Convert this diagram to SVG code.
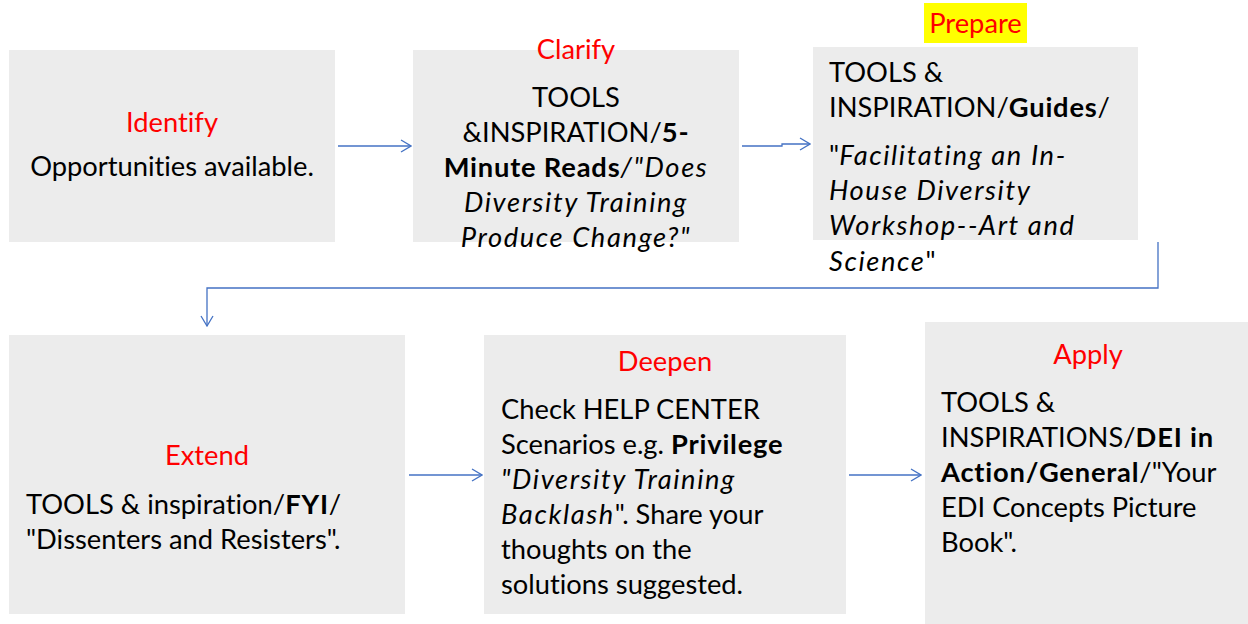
<svg xmlns="http://www.w3.org/2000/svg" width="1248" height="624" viewBox="0 0 1248 624">
<defs>
<style>
.box{fill:#ececec}
text{font-family:Lato,"Open Sans","Liberation Sans",sans-serif;font-size:27.3px;fill:#000;font-variant-ligatures:none}
.h{fill:#ff0000}
.c{text-anchor:middle}
.b{font-weight:bold;letter-spacing:0.8px}
.i{font-style:italic;letter-spacing:1.6px}
.ln{fill:none;stroke:#4472c4;stroke-width:1.3}
</style>
<marker id="ah" viewBox="0 0 12 14" refX="11" refY="7" markerWidth="12" markerHeight="14" markerUnits="userSpaceOnUse" orient="auto">
<path d="M1,1 L11,7 L1,13" fill="none" stroke="#4472c4" stroke-width="1.3"/>
</marker>
</defs>
<rect width="1248" height="624" fill="#fff"/>
<g id="connectors">
<path class="ln" d="M338,146 H411" marker-end="url(#ah)"/>
<path class="ln" d="M742,146 H782 V144 H810" marker-end="url(#ah)"/>
<path class="ln" d="M1158,242 V288 H207 V326" marker-end="url(#ah)"/>
<path class="ln" d="M409,475 H482" marker-end="url(#ah)"/>
<path class="ln" d="M849,475 H921" marker-end="url(#ah)"/>
</g>
<g id="identify">
<rect class="box" x="9" y="50" width="326" height="192"/>
<text class="h c" x="172" y="132">Identify</text>
<text class="c" x="172" y="176">Opportunities available.</text>
</g>
<g id="clarify">
<rect class="box" x="413" y="50" width="326" height="192"/>
<text class="h c" x="576" y="59">Clarify</text>
<text class="c" x="576" y="107">TOOLS</text>
<text class="c" x="576" y="142">&amp;INSPIRATION/<tspan class="b">5-</tspan></text>
<text class="c" x="576" y="177"><tspan class="b">Minute Reads</tspan><tspan class="i">/"Does</tspan></text>
<text class="c i" x="576" y="212">Diversity Training</text>
<text class="c i" x="576" y="247">Produce Change?"</text>
</g>
<g id="prepare">
<rect class="box" x="813" y="47" width="325" height="193"/>
<rect x="924" y="3" width="103" height="40" fill="#ffff00"/>
<text class="h c" x="975.5" y="33">Prepare</text>
<text x="829" y="82">TOOLS &amp;</text>
<text x="829" y="117">INSPIRATION/<tspan class="b">Guides</tspan>/</text>
<text x="829" y="165">"<tspan class="i">Facilitating an In-</tspan></text>
<text class="i" x="829" y="200">House Diversity</text>
<text class="i" x="829" y="235">Workshop--Art and</text>
<text x="829" y="271"><tspan class="i">Science</tspan>"</text>
</g>
<g id="extend">
<rect class="box" x="9" y="335" width="396" height="279"/>
<text class="h c" x="207" y="465">Extend</text>
<text x="26" y="514">TOOLS &amp; inspiration/<tspan class="b">FYI</tspan>/</text>
<text x="26" y="549">"Dissenters and Resisters".</text>
</g>
<g id="deepen">
<rect class="box" x="484" y="335" width="362" height="279"/>
<text class="h c" x="665" y="371">Deepen</text>
<text x="501" y="419">Check HELP CENTER</text>
<text x="501" y="454">Scenarios e.g. <tspan class="b">Privilege</tspan></text>
<text class="i" x="501" y="489">"Diversity Training</text>
<text x="501" y="524"><tspan class="i">Backlash</tspan>". Share your</text>
<text x="501" y="559">thoughts on the</text>
<text x="501" y="594">solutions suggested.</text>
</g>
<g id="apply">
<rect class="box" x="925" y="322" width="323" height="302"/>
<text class="h c" x="1088" y="364">Apply</text>
<text x="941" y="412">TOOLS &amp;</text>
<text x="941" y="447">INSPIRATIONS/<tspan class="b">DEI in</tspan></text>
<text x="941" y="482"><tspan class="b">Action/General</tspan>/"Your</text>
<text x="941" y="517">EDI Concepts Picture</text>
<text x="941" y="552">Book".</text>
</g>
</svg>
